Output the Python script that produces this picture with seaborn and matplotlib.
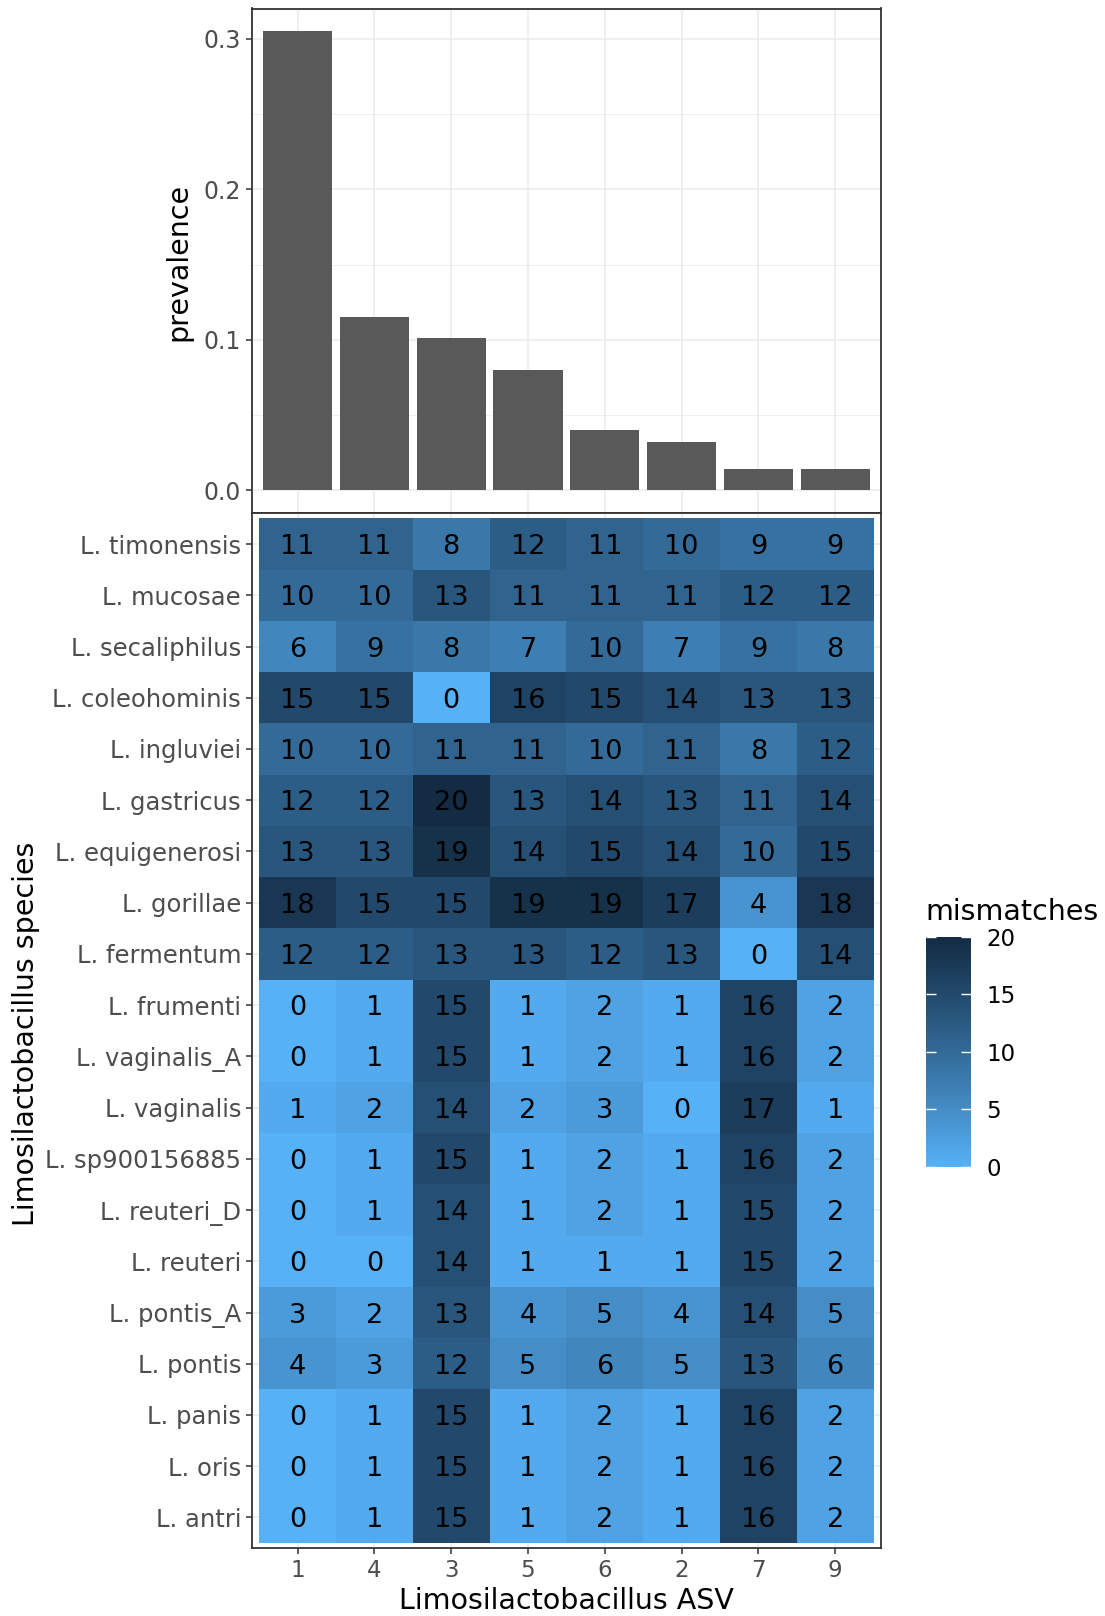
import numpy as np
import pandas as pd
import matplotlib
matplotlib.use("Agg")
import matplotlib.pyplot as plt
from matplotlib.colors import ListedColormap, to_rgb
from matplotlib.ticker import FixedLocator
import seaborn as sns

sns.set_style("white")
plt.rcParams["font.family"] = ["DejaVu Sans"]

# ---------------- data ----------------
asv_order = ["1", "4", "3", "5", "6", "2", "7", "9"]
prevalence = [0.305, 0.115, 0.101, 0.080, 0.040, 0.032, 0.0145, 0.0145]

species = [
    "L. timonensis", "L. mucosae", "L. secaliphilus", "L. coleohominis",
    "L. ingluviei", "L. gastricus", "L. equigenerosi", "L. gorillae",
    "L. fermentum", "L. frumenti", "L. vaginalis_A", "L. vaginalis",
    "L. sp900156885", "L. reuteri_D", "L. reuteri", "L. pontis_A",
    "L. pontis", "L. panis", "L. oris", "L. antri",
]

# mismatches per species (rows) and ASV (columns, in asv_order)
mm_timonensis = [11, 11, 8, 12, 11, 10, 9, 9]
mm_mucosae = [10, 10, 13, 11, 11, 11, 12, 12]
mm_secaliphilus = [6, 9, 8, 7, 10, 7, 9, 8]
mm_coleohominis = [15, 15, 0, 16, 15, 14, 13, 13]
mm_ingluviei = [10, 10, 11, 11, 10, 11, 8, 12]
mm_gastricus = [12, 12, 20, 13, 14, 13, 11, 14]
mm_equigenerosi = [13, 13, 19, 14, 15, 14, 10, 15]
mm_gorillae = [18, 15, 15, 19, 19, 17, 4, 18]
mm_fermentum = [12, 12, 13, 13, 12, 13, 0, 14]
mm_frumenti = [0, 1, 15, 1, 2, 1, 16, 2]
mm_vaginalis_A = [0, 1, 15, 1, 2, 1, 16, 2]
mm_vaginalis = [1, 2, 14, 2, 3, 0, 17, 1]
mm_sp900156885 = [0, 1, 15, 1, 2, 1, 16, 2]
mm_reuteri_D = [0, 1, 14, 1, 2, 1, 15, 2]
mm_reuteri = [0, 0, 14, 1, 1, 1, 15, 2]
mm_pontis_A = [3, 2, 13, 4, 5, 4, 14, 5]
mm_pontis = [4, 3, 12, 5, 6, 5, 13, 6]
mm_panis = [0, 1, 15, 1, 2, 1, 16, 2]
mm_oris = [0, 1, 15, 1, 2, 1, 16, 2]
mm_antri = [0, 1, 15, 1, 2, 1, 16, 2]

mismatch_rows = [
    mm_timonensis, mm_mucosae, mm_secaliphilus, mm_coleohominis,
    mm_ingluviei, mm_gastricus, mm_equigenerosi, mm_gorillae,
    mm_fermentum, mm_frumenti, mm_vaginalis_A, mm_vaginalis,
    mm_sp900156885, mm_reuteri_D, mm_reuteri, mm_pontis_A,
    mm_pontis, mm_panis, mm_oris, mm_antri,
]

df_prev = pd.DataFrame({"asv": asv_order, "prevalence": prevalence})
df_mm = pd.DataFrame(mismatch_rows, index=species, columns=asv_order)


# ---------------- Lab-interpolated gradient ----------------
_M = np.array([[0.4124564, 0.3575761, 0.1804375],
               [0.2126729, 0.7151522, 0.0721750],
               [0.0193339, 0.1191920, 0.9503041]])
_WHITE = np.array([0.95047, 1.0, 1.08883])
_D = 6 / 29


def hex_to_lab(c):
    rgb = np.array(to_rgb(c))
    lin = np.where(rgb <= 0.04045, rgb / 12.92, ((rgb + 0.055) / 1.055) ** 2.4)
    t = (_M @ lin) / _WHITE
    f = np.where(t > _D ** 3, np.cbrt(t), t / (3 * _D ** 2) + 4 / 29)
    return np.array([116 * f[1] - 16, 500 * (f[0] - f[1]), 200 * (f[1] - f[2])])


def lab_to_rgb(lab):
    L, a, b = lab
    fy = (L + 16) / 116
    fx = fy + a / 500
    fz = fy - b / 200
    f = np.array([fx, fy, fz])
    t = np.where(f > _D, f ** 3, 3 * _D ** 2 * (f - 4 / 29))
    xyz = t * _WHITE
    lin = np.linalg.solve(_M, xyz)
    lin = np.clip(lin, 0, 1)
    rgb = np.where(lin <= 0.0031308, 12.92 * lin, 1.055 * lin ** (1 / 2.4) - 0.055)
    return np.clip(rgb, 0, 1)


lab_lo = hex_to_lab("#56B1F7")
lab_hi = hex_to_lab("#132B43")
grad = [lab_to_rgb(lab_lo + (lab_hi - lab_lo) * s) for s in np.linspace(0, 1, 256)]
cmap = ListedColormap(grad)

# ---------------- figure ----------------
W, H = 1105, 1616
fig = plt.figure(figsize=(W / 100, H / 100), dpi=100)


def px_axes(l, t, r, b):
    return fig.add_axes([l / W, 1 - b / H, (r - l) / W, (b - t) / H])


ax_top = px_axes(251.5, 8.5, 881.3, 513.3)
ax_hm = px_axes(251.5, 513.3, 881.3, 1548.2)
cax = px_axes(925.6, 936.5, 971.3, 1167.0)

border = "#333333"
tick_txt = "#4D4D4D"
grid_c = "#EBEBEB"

# --- prevalence bars ---
sns.barplot(data=df_prev, x="asv", y="prevalence", order=asv_order,
            color="#595959", saturation=1, width=0.9, linewidth=0, ax=ax_top)
ax_top.set_xlim(-0.6, 7.6)
ax_top.set_ylim(-0.01525, 0.32025)
ax_top.set_yticks([0.0, 0.1, 0.2, 0.3])
ax_top.set_yticklabels(["0.0", "0.1", "0.2", "0.3"])
ax_top.yaxis.set_minor_locator(FixedLocator([0.05, 0.15, 0.25]))
ax_top.grid(True, which="major", color=grid_c, lw=1.1)
ax_top.grid(True, which="minor", axis="y", color=grid_c, lw=0.6)
ax_top.set_axisbelow(True)
ax_top.tick_params(axis="x", bottom=False, labelbottom=False)
ax_top.tick_params(axis="y", which="major", left=True, length=4.5, width=1.1,
                   color=border, labelsize=17, labelcolor=tick_txt, pad=3)
ax_top.tick_params(axis="y", which="minor", left=False)
plt.setp(ax_top.get_yticklabels(), va="center_baseline")
ax_top.set_xlabel("")
ax_top.set_ylabel("")
for sp in ax_top.spines.values():
    sp.set_visible(True)
    sp.set_color(border)
    sp.set_linewidth(1.3)

# --- mismatch heatmap ---
sns.heatmap(df_mm, ax=ax_hm, cmap=cmap, vmin=0, vmax=20, annot=True, fmt="d",
            annot_kws={"color": "black", "fontsize": 19.5, "va": "center_baseline"},
            xticklabels=asv_order, yticklabels=species,
            cbar=True, cbar_ax=cax, linewidths=0)
ax_hm.set_xlim(-0.1, 8.1)
ax_hm.set_ylim(20.1, -0.1)
ax_hm.grid(True, color=grid_c, lw=1.1)
ax_hm.set_axisbelow(True)
ax_hm.tick_params(axis="y", labelsize=17.5)
ax_hm.tick_params(axis="x", labelsize=16.5)
ax_hm.tick_params(axis="both", length=4.5, width=1.1, color=border,
                  labelcolor=tick_txt, pad=3, left=True, bottom=True)
plt.setp(ax_hm.get_yticklabels(), rotation=0, va="center_baseline")
plt.setp(ax_hm.get_xticklabels(), rotation=0)
ax_hm.set_xlabel("")
ax_hm.set_ylabel("")
for sp in ax_hm.spines.values():
    sp.set_visible(True)
    sp.set_color(border)
    sp.set_linewidth(1.3)

# --- colour bar ---
cb = ax_hm.collections[0].colorbar
cb.set_ticks([0, 5, 10, 15, 20])
cb.outline.set_linewidth(0)
cax.set_axisbelow(False)
cax.minorticks_off()
cax.yaxis.set_ticks_position("both")
cax.tick_params(axis="y", direction="in", length=7, width=1.0, color="white",
                left=True, right=True, labelleft=False, labelright=True,
                labelsize=16.5, labelcolor="black", pad=11)
plt.setp(cax.get_yticklabels(), va="center_baseline")

# --- titles ---
fig.text(178 / W, 1 - 262 / H, "prevalence", rotation=90, ha="center",
         va="center", fontsize=20.5, color="black")
fig.text(26 / W, 1 - 1034 / H, "Limosilactobacillus species", rotation=90,
         ha="center", va="center", fontsize=20.5, color="black")
fig.text(566 / W, 1 - 1601 / H, "Limosilactobacillus ASV", ha="center",
         va="center", fontsize=20.5, color="black")
fig.text(925.6 / W, 1 - 920 / H, "mismatches", ha="left", va="baseline",
         fontsize=20.5, color="black")

fig.savefig("out.png", dpi=100, facecolor="white")
